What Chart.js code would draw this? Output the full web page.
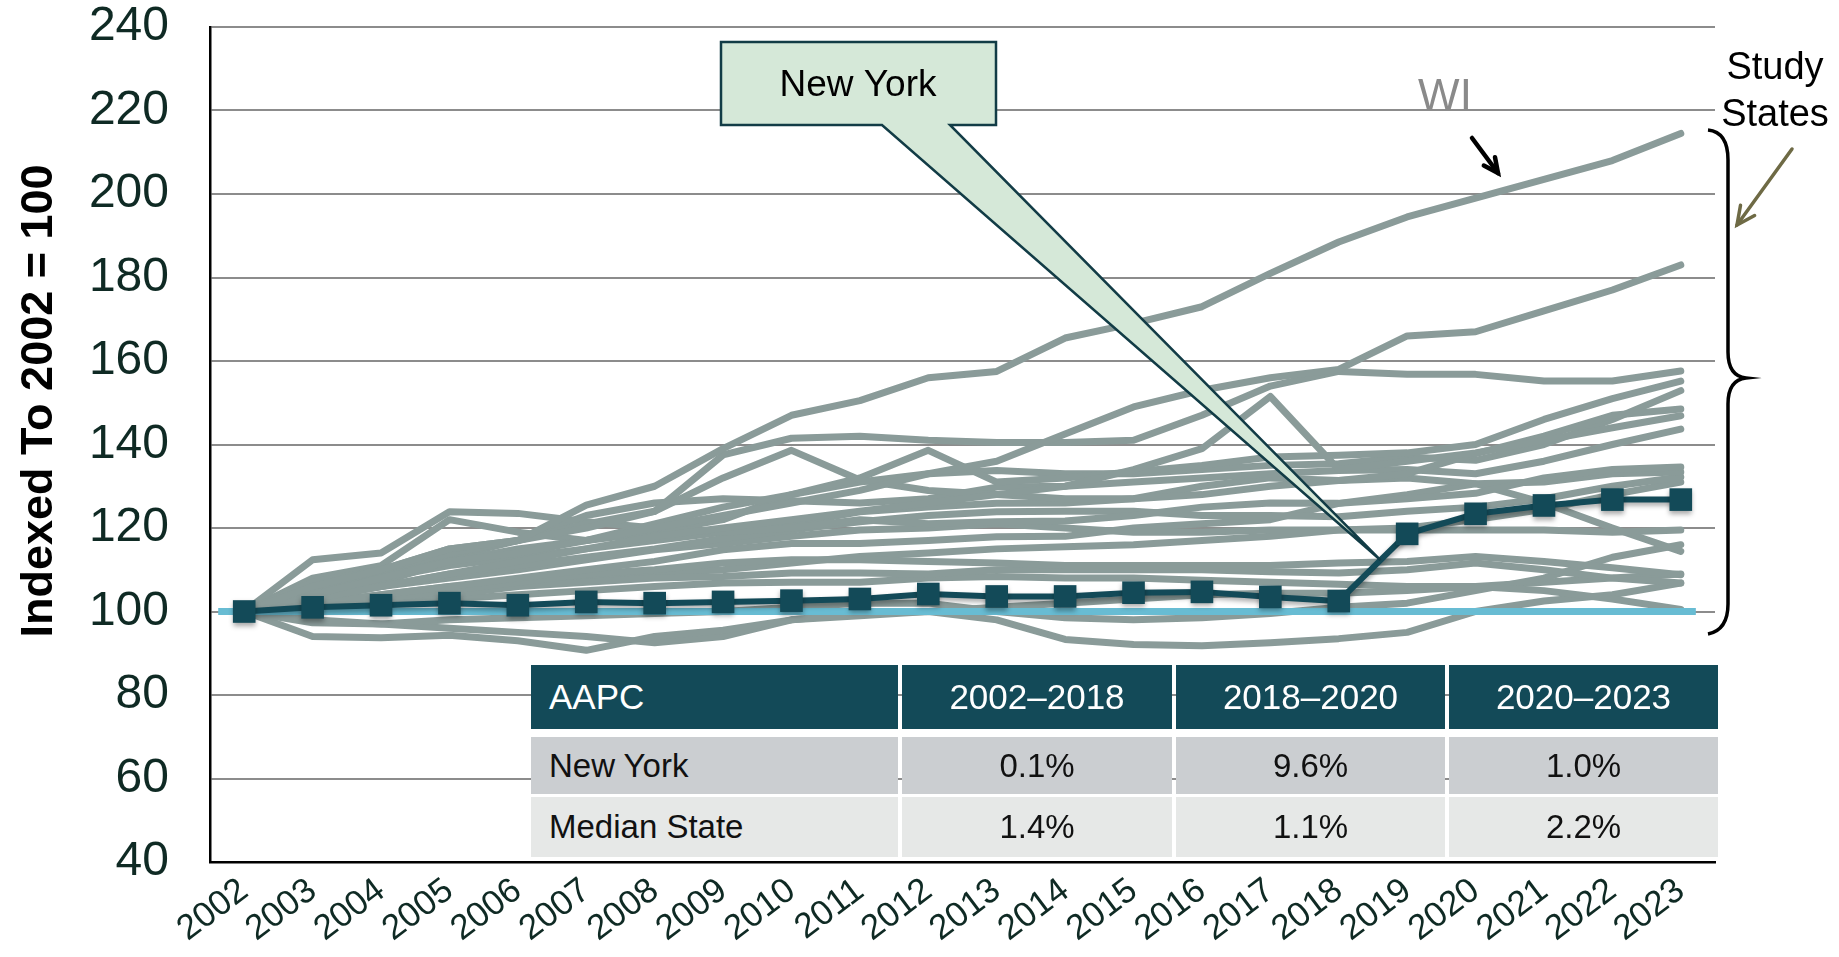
<!DOCTYPE html>
<html>
<head>
<meta charset="utf-8">
<title>Indexed to 2002 = 100</title>
<script src="https://cdn.jsdelivr.net/npm/chart.js@4.4.1/dist/chart.umd.min.js"></script>
<style>
  html, body { margin: 0; padding: 0; background: #fff; }
  #wrap { position: relative; width: 1839px; height: 957px; overflow: hidden; }
  #chart { position: absolute; left: 0; top: 0; }
  .cell {
    position: absolute; box-sizing: border-box;
    font-family: "Liberation Sans", Arial, sans-serif;
    display: flex; align-items: center;
  }
</style>
</head>
<body>
<div id="wrap">
  <canvas id="chart" width="1839" height="957"></canvas>
  <div id="aapc"></div>
</div>
<script>
'use strict';

//*****DATA******/

const years = ['2002', '2003', '2004', '2005', '2006', '2007', '2008', '2009', '2010', '2011', '2012',
  '2013', '2014', '2015', '2016', '2017', '2018', '2019', '2020', '2021', '2022', '2023'];

const yTicks = [40, 60, 80, 100, 120, 140, 160, 180, 200, 220, 240];

const newYork = [100, 101, 101.5, 102, 101.5, 102.3, 102, 102.3, 102.6, 103, 104.2,
  103.6, 103.6, 104.5, 104.7, 103.5, 102.5, 118.6, 123.4, 125.4, 126.8, 126.8];

// reference line at index 100, a little wider than the first and last year
const baselineX = [2001.62, 2023.22];
const baselineY = [100, 100];

// study states (grey lines)
const wi = [100, 106, 110, 115, 117, 125.5, 130, 139, 147, 150.5, 156, 157.5, 165.5, 169, 173, 181, 188.5, 194.5, 199, 203.5, 208, 214.5];
const st02 = [100, 104, 108, 112, 114, 117, 120, 123, 126, 129, 133, 136, 142.5, 149, 153, 156, 158, 166, 167, 172, 177, 183];
const st03 = [100, 105, 110, 114, 117, 120, 124, 137.5, 141.5, 142, 141, 140.5, 140.5, 141, 147, 154, 157.5, 156.8, 156.8, 155.2, 155.2, 157.6];
const st04 = [100, 103, 106, 109, 112, 115, 118, 120, 122, 124, 126, 128, 130, 134, 139, 151.5, 134, 136, 138, 141, 144, 146.9];
const st05 = [100, 107, 110, 115, 117, 121, 124, 132, 138.6, 131.5, 129, 128, 127, 127, 128, 130, 131.4, 133, 137.8, 142, 147, 148.5];
const st06 = [100, 104, 107, 112, 115, 117, 121, 125, 128, 132, 138.6, 131, 132, 133.5, 135, 137, 137.4, 138, 140, 146, 151, 155.2];
const st07 = [100, 112.4, 114, 123.9, 123.5, 121.5, 120, 119, 120, 122, 121, 121.5, 121.7, 123, 125, 126, 125.9, 127, 128.3, 132, 134, 134.6];
const st08 = [100, 108, 111, 122, 119, 117, 119, 122, 128, 131, 133, 133.8, 133, 133, 134, 135, 135.4, 137, 136.2, 140, 146, 152.9];
const st09 = [100, 106, 109, 113, 117, 123, 126, 127, 126.5, 126, 127, 129.8, 130, 131, 132, 133, 133.8, 134, 133, 136, 140, 143.7];
const st10 = [100, 105, 108, 111, 113, 115, 117, 119, 121, 123.9, 125, 125.9, 126, 127, 130, 132, 131.4, 132, 130.6, 131, 133, 133.4];
const st11 = [100, 103, 106, 109, 111, 113, 115, 117.5, 119.5, 121.5, 123, 123.9, 124, 124, 123, 123, 122.7, 124, 125, 127, 130, 132.2];
const st12 = [100, 104, 106, 108, 110, 112.4, 114.8, 116.3, 118, 119.5, 120, 121, 120, 119, 119, 119.5, 119.5, 119.5, 119.5, 119.5, 119, 119.5];
const st13 = [100, 102, 104, 106, 108, 110, 112, 114.8, 116.3, 116.3, 117, 117.9, 118, 120, 121, 122, 125.9, 128, 130.6, 126, 120, 114.4];
const st14 = [100, 101, 103, 105, 107, 109, 110, 111.6, 112.4, 112.4, 112, 111.6, 111, 111, 111, 111, 111.6, 112, 113.2, 112, 110.5, 108.8];
const st15 = [100, 102, 103, 104, 106, 107, 108, 108.4, 109.2, 109.2, 109, 110, 110, 110, 110, 109.5, 109.2, 110, 111.6, 110, 108, 106.8];
const st16 = [100, 101, 102, 103, 104, 105, 106, 106.8, 107, 107, 108, 108.4, 108, 108, 107.5, 107, 106.5, 106, 106, 105, 103, 100.5];
const st17 = [100, 97.3, 97, 98, 98.5, 99, 99.5, 100, 101, 102, 102, 100, 98.5, 98, 98.5, 99.5, 101, 102, 105, 108, 113, 116];
const st18 = [100, 94, 93.7, 94.3, 93, 90.7, 94, 95.5, 98, 99, 100, 98, 93.3, 92.1, 91.8, 92.5, 93.5, 95, 100, 102.5, 104, 106.8];
const st19 = [100, 98, 97, 96, 95, 94, 92.5, 94, 98, 99.5, 100, 101, 102, 103, 104, 104.4, 104.4, 105, 106, 107, 108, 109];
const st20 = [100, 102, 104, 106, 107, 108, 109.2, 110, 111.6, 113.2, 114, 115, 115.5, 116, 117, 118, 119.5, 120, 122, 124.5, 128, 131];

const studyStates = [wi, st02, st03, st04, st05, st06, st07, st08, st09, st10,
  st11, st12, st13, st14, st15, st16, st17, st18, st19, st20];

// AAPC table
const aapcHeader = ['AAPC', '2002\u20132018', '2018\u20132020', '2020\u20132023'];
const aapcNewYork = ['New York', '0.1%', '9.6%', '1.0%'];
const aapcMedian = ['Median State', '1.4%', '1.1%', '2.2%'];

//*****STYLE******/

const FONT = '"Liberation Sans", Arial, sans-serif';
const GREY = '#8a9b99';
const TEAL = '#134a58';
const LIGHT_BLUE = '#68bcd3';
const TEXT_DARK = '#0f2a24';

//*****DATASETS******/

let datasets = [];

datasets.push({
  label: 'New York',
  data: newYork,
  borderColor: TEAL,
  backgroundColor: TEAL,
  borderWidth: 6,
  pointStyle: 'rect',
  pointRadius: 16,
  pointBackgroundColor: TEAL,
  pointBorderWidth: 0,
  order: 0
});

datasets.push({
  label: 'Index = 100',
  data: baselineX.map((v, i) => ({ x: v, y: baselineY[i] })),
  xAxisID: 'xLin',
  borderColor: LIGHT_BLUE,
  borderWidth: 7,
  pointRadius: 0,
  order: 1
});

for (let i = 0; i < studyStates.length; i++) {
  datasets.push({
    label: i === 0 ? 'WI' : 'State ' + (i + 1),
    data: studyStates[i],
    borderColor: GREY,
    borderWidth: 7,
    borderCapStyle: 'round',
    borderJoinStyle: 'round',
    pointRadius: 0,
    order: 2
  });
}

//*****HELPERS******/

function drawArrow(ctx, x1, y1, x2, y2, color, width, head) {
  let ang = Math.atan2(y2 - y1, x2 - x1);
  ctx.save();
  ctx.strokeStyle = color;
  ctx.lineWidth = width;
  ctx.lineCap = 'round';
  ctx.beginPath();
  ctx.moveTo(x1, y1);
  ctx.lineTo(x2, y2);
  ctx.stroke();
  ctx.beginPath();
  ctx.moveTo(x2 - head * Math.cos(ang - 0.45), y2 - head * Math.sin(ang - 0.45));
  ctx.lineTo(x2, y2);
  ctx.lineTo(x2 - head * Math.cos(ang + 0.45), y2 - head * Math.sin(ang + 0.45));
  ctx.stroke();
  ctx.restore();
}

//*****PLUGINS******/

const markerShadow = {
  id: 'markerShadow',
  beforeDatasetDraw(chart, args) {
    if (args.index === 0) {
      chart.ctx.save();
      chart.ctx.shadowColor = 'rgba(0,0,0,0.35)';
      chart.ctx.shadowBlur = 5;
      chart.ctx.shadowOffsetY = 3;
    }
  },
  afterDatasetDraw(chart, args) {
    if (args.index === 0) {
      chart.ctx.restore();
    }
  }
};

const annotations = {
  id: 'annotations',
  afterDatasetsDraw(chart) {
    let ctx = chart.ctx;
    let x = chart.scales.x;
    let y = chart.scales.y;

    // y axis title
    ctx.save();
    ctx.translate(52, 401);
    ctx.rotate(-Math.PI / 2);
    ctx.fillStyle = '#000';
    ctx.font = 'bold 45px ' + FONT;
    ctx.textAlign = 'center';
    ctx.textBaseline = 'alphabetic';
    ctx.fillText('Indexed To 2002 = 100', 0, 0);
    ctx.restore();

    // New York callout, tip sits on the 2018-2019 segment
    let x18 = x.getPixelForValue(16);
    let x19 = x.getPixelForValue(17);
    let y18 = y.getPixelForValue(newYork[16]);
    let y19 = y.getPixelForValue(newYork[17]);
    let tipX = x18 + 0.61 * (x19 - x18);
    let tipY = y18 + 0.61 * (y19 - y18);

    ctx.save();
    ctx.fillStyle = '#d5e8d8';
    ctx.strokeStyle = '#123c46';
    ctx.lineWidth = 2.5;
    ctx.lineJoin = 'miter';
    ctx.beginPath();
    ctx.moveTo(721, 42);
    ctx.lineTo(996, 42);
    ctx.lineTo(996, 125);
    ctx.lineTo(950, 125);
    ctx.lineTo(tipX, tipY);
    ctx.lineTo(882, 125);
    ctx.lineTo(721, 125);
    ctx.closePath();
    ctx.fill();
    ctx.stroke();
    ctx.fillStyle = '#000';
    ctx.font = '37px ' + FONT;
    ctx.textAlign = 'center';
    ctx.textBaseline = 'middle';
    ctx.fillText('New York', 858, 86);
    ctx.restore();

    // WI label and arrow
    ctx.save();
    ctx.fillStyle = '#8a8a8a';
    ctx.font = '44px ' + FONT;
    ctx.textAlign = 'center';
    ctx.textBaseline = 'alphabetic';
    ctx.fillText('WI', 1445, 110);
    ctx.restore();
    drawArrow(ctx, 1472, 138, 1498, 173, '#000', 4.5, 16);

    // Study States label, brace and arrow
    ctx.save();
    ctx.fillStyle = '#000';
    ctx.font = '38px ' + FONT;
    ctx.textAlign = 'center';
    ctx.textBaseline = 'alphabetic';
    ctx.fillText('Study', 1775, 79);
    ctx.fillText('States', 1775, 126);
    ctx.strokeStyle = '#000';
    ctx.lineWidth = 3.5;
    ctx.beginPath();
    ctx.moveTo(1708, 130);
    ctx.quadraticCurveTo(1728, 132, 1728, 160);
    ctx.lineTo(1728, 352);
    ctx.quadraticCurveTo(1728, 376, 1746, 378);
    ctx.quadraticCurveTo(1728, 380, 1728, 404);
    ctx.lineTo(1728, 604);
    ctx.quadraticCurveTo(1728, 630, 1708, 634);
    ctx.stroke();
    ctx.restore();
    drawArrow(ctx, 1792, 149, 1737, 225, '#6e6a45', 3.5, 20);
  }
};

//*****CHART******/

let ctx = document.getElementById('chart');

let chartObj = {
  type: 'line',
  data: {
    labels: years,
    datasets: datasets
  },
  options: {
    responsive: false,
    animation: false,
    devicePixelRatio: 1,
    layout: {
      padding: { left: 0, top: 26, right: 124, bottom: 0 }
    },
    plugins: {
      legend: { display: false },
      tooltip: { enabled: false }
    },
    scales: {
      x: {
        type: 'category',
        offset: true,
        grid: { display: false, drawTicks: false },
        border: { display: true, color: '#000', width: 2.5 },
        ticks: {
          color: TEXT_DARK,
          font: { family: FONT, size: 35 },
          minRotation: 37,
          maxRotation: 37,
          padding: 8,
          autoSkip: false
        },
        afterFit(scale) {
          scale.height = 95;
        }
      },
      // hidden linear axis lined up with the category slots (2001.5 .. 2023.5)
      xLin: {
        type: 'linear',
        display: false,
        min: 2001.5,
        max: 2023.5
      },
      y: {
        min: 40,
        max: 240,
        afterBuildTicks(scale) {
          scale.ticks = yTicks.map(v => ({ value: v }));
        },
        grid: {
          color: '#8c8c8c',
          lineWidth: 2,
          drawTicks: true,
          tickLength: 38,
          tickColor: 'rgba(0,0,0,0)'
        },
        border: { display: true, color: '#000', width: 2.5 },
        ticks: {
          color: TEXT_DARK,
          font: { family: FONT, size: 48, lineHeight: 1 },
          padding: 3
        },
        afterFit(scale) {
          scale.width = 210;
        }
      }
    }
  },
  plugins: [markerShadow, annotations]
};

new Chart(ctx, chartObj);

//*****AAPC TABLE******/

let tableElem = document.getElementById('aapc');
let colX = [531, 902, 1176, 1449];
let colW = [367, 270, 269, 269];
let rowY = [665, 737, 797];
let rowH = [64, 57, 60];
let rowBg = [TEAL, '#cbced1', '#e6e8e7'];
let rowColor = ['#fff', '#111', '#111'];
let tableRows = [aapcHeader, aapcNewYork, aapcMedian];

for (let r = 0; r < tableRows.length; r++) {
  for (let c = 0; c < tableRows[r].length; c++) {
    let cell = document.createElement('div');
    cell.className = 'cell';
    cell.textContent = tableRows[r][c];
    cell.style.left = colX[c] + 'px';
    cell.style.top = rowY[r] + 'px';
    cell.style.width = colW[c] + 'px';
    cell.style.height = rowH[r] + 'px';
    cell.style.background = rowBg[r];
    cell.style.color = rowColor[r];
    cell.style.fontSize = r === 0 ? '35px' : '33px';
    if (c === 0) {
      cell.style.paddingLeft = '18px';
      cell.style.justifyContent = 'flex-start';
    } else {
      cell.style.justifyContent = 'center';
    }
    tableElem.appendChild(cell);
  }
}
</script>
</body>
</html>
